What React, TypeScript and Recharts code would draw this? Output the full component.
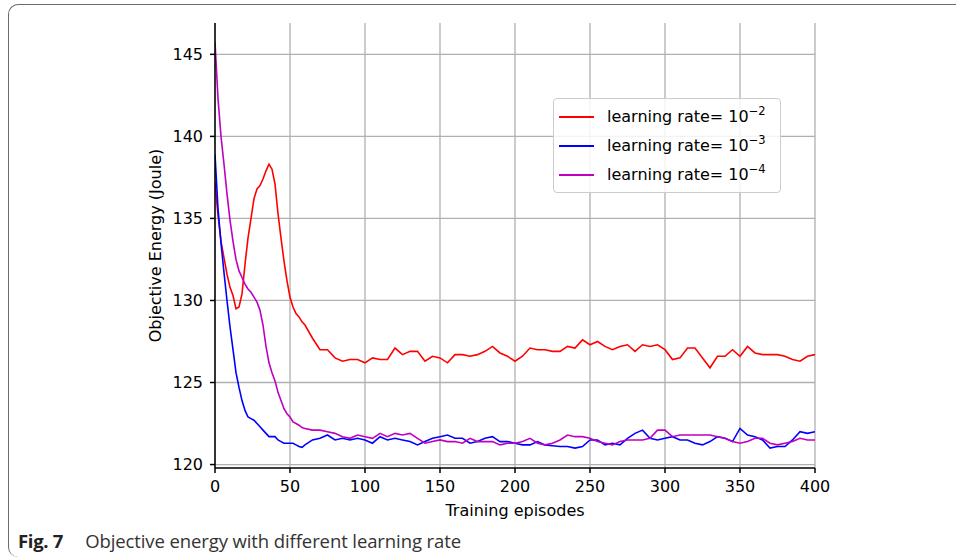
import { LineChart, Line, XAxis, YAxis, CartesianGrid, Legend } from 'recharts'

// training episode index (x axis)
const episodes = [
  0, 2, 4, 6, 8, 10, 12, 14, 16, 18,
  20, 22, 24, 26, 28, 30, 32, 34, 36, 38,
  40, 42, 44, 46, 48, 50, 52, 54, 56, 58,
  60, 65, 70, 75, 80, 85, 90, 95, 100, 105,
  110, 115, 120, 125, 130, 135, 140, 145, 150, 155,
  160, 165, 170, 175, 180, 185, 190, 195, 200, 205,
  210, 215, 220, 225, 230, 235, 240, 245, 250, 255,
  260, 265, 270, 275, 280, 285, 290, 295, 300, 305,
  310, 315, 320, 325, 330, 335, 340, 345, 350, 355,
  360, 365, 370, 375, 380, 385, 390, 395, 400,
]

// learning rate 1e-2
const energyLr2 = [
  137.2, 135.2, 133.6, 132.6, 131.6, 130.8, 130.3, 129.5, 129.6, 130.4,
  132.2, 133.8, 135.0, 136.2, 136.8, 137.0, 137.4, 137.9, 138.3, 138.0,
  137.1, 135.3, 133.8, 132.4, 131.2, 130.2, 129.6, 129.2, 129.0, 128.7,
  128.5, 127.7, 127.0, 127.0, 126.5, 126.3, 126.4, 126.4, 126.2, 126.5,
  126.4, 126.4, 127.1, 126.7, 126.9, 126.9, 126.3, 126.6, 126.5, 126.2,
  126.7, 126.7, 126.6, 126.7, 126.9, 127.2, 126.8, 126.6, 126.3, 126.6,
  127.1, 127.0, 127.0, 126.9, 126.9, 127.2, 127.1, 127.6, 127.3, 127.5,
  127.2, 127.0, 127.2, 127.3, 126.9, 127.3, 127.2, 127.3, 127.0, 126.4,
  126.5, 127.1, 127.1, 126.5, 125.9, 126.6, 126.6, 127.0, 126.6, 127.2,
  126.8, 126.7, 126.7, 126.7, 126.6, 126.4, 126.3, 126.6, 126.7,
]

// learning rate 1e-3
const energyLr3 = [
  138.9, 135.6, 133.5, 131.7, 130.0, 128.4, 127.0, 125.6, 124.7, 123.9,
  123.3, 122.9, 122.8, 122.7, 122.5, 122.3, 122.1, 121.9, 121.7, 121.7,
  121.7, 121.5, 121.4, 121.3, 121.3, 121.3, 121.3, 121.2, 121.1, 121.05,
  121.2, 121.5, 121.6, 121.8, 121.5, 121.6, 121.5, 121.6, 121.5, 121.3,
  121.7, 121.5, 121.6, 121.5, 121.4, 121.2, 121.4, 121.6, 121.7, 121.8,
  121.6, 121.6, 121.3, 121.4, 121.6, 121.7, 121.4, 121.4, 121.3, 121.2,
  121.2, 121.4, 121.2, 121.15, 121.1, 121.1, 121.0, 121.1, 121.5, 121.5,
  121.2, 121.3, 121.2, 121.6, 121.9, 122.1, 121.6, 121.5, 121.6, 121.7,
  121.5, 121.5, 121.3, 121.2, 121.4, 121.7, 121.6, 121.4, 122.2, 121.8,
  121.7, 121.5, 121.0, 121.1, 121.1, 121.5, 122.0, 121.9, 122.0,
]

// learning rate 1e-4
const energyLr4 = [
  145.75, 142.3, 140.0, 138.3, 136.5, 134.9, 133.6, 132.5, 131.8, 131.4,
  131.0, 130.7, 130.5, 130.2, 129.9, 129.4, 128.5, 127.2, 126.2, 125.6,
  125.1, 124.4, 123.9, 123.4, 123.1, 122.9, 122.6, 122.5, 122.4, 122.25,
  122.2, 122.1, 122.1, 122.0, 121.9, 121.7, 121.6, 121.8, 121.7, 121.6,
  121.9, 121.7, 121.9, 121.8, 121.9, 121.6, 121.3, 121.4, 121.5, 121.4,
  121.4, 121.3, 121.6, 121.4, 121.4, 121.4, 121.2, 121.3, 121.3, 121.4,
  121.6, 121.3, 121.2, 121.3, 121.5, 121.8, 121.7, 121.7, 121.6, 121.4,
  121.3, 121.2, 121.4, 121.5, 121.5, 121.5, 121.6, 122.1, 122.1, 121.7,
  121.8, 121.8, 121.8, 121.8, 121.8, 121.7, 121.6, 121.4, 121.3, 121.4,
  121.6, 121.6, 121.3, 121.2, 121.3, 121.4, 121.6, 121.5, 121.5,
]

const xTicks = [0, 50, 100, 150, 200, 250, 300, 350, 400]
const yTicks = [120, 125, 130, 135, 140, 145]

const seriesKeys = ['lr2', 'lr3', 'lr4']
const seriesColors = ['#ff0000', '#0000ff', '#bf00bf']
const seriesExponents = ['\u22122', '\u22123', '\u22124']

const data = episodes.map((ep, i) => ({
  ep,
  lr2: energyLr2[i],
  lr3: energyLr3[i],
  lr4: energyLr4[i],
}))

const FONT = '"DejaVu Sans", sans-serif'

const renderLegend = () => (
  <div
    style={{
      width: 228,
      boxSizing: 'border-box',
      border: '1px solid #cccccc',
      borderRadius: 4,
      background: 'rgba(255,255,255,0.85)',
      padding: '3px 0',
      fontFamily: FONT,
      fontSize: 16,
      color: '#000',
    }}
  >
    {seriesKeys.map((k, i) => (
      <div key={k} style={{ display: 'flex', alignItems: 'center', height: 29 }}>
        <svg width={35} height={4} style={{ marginLeft: 5, marginRight: 13 }}>
          <line x1={0} y1={2} x2={35} y2={2} stroke={seriesColors[i]} strokeWidth={1.8} />
        </svg>
        <span style={{ whiteSpace: 'nowrap' }}>
          learning rate= 10
          <span style={{ fontSize: 11.5, position: 'relative', top: -7 }}>{seriesExponents[i]}</span>
        </span>
      </div>
    ))}
  </div>
)

export default function App() {
  return (
    <div style={{ position: 'absolute', left: 0, top: 0, width: 956, height: 560, background: '#fff', overflow: 'hidden', fontFamily: FONT }}>
      {/* figure frame */}
      <div
        style={{
          position: 'absolute',
          left: 8,
          top: 4,
          width: 980,
          height: 552,
          borderTop: '1.6px solid #6b6b6b',
          borderLeft: '1.6px solid #6b6b6b',
          borderRadius: '10px 0 0 10px',
        }}
      />
      <div style={{ position: 'absolute', left: 0, top: 0 }}>
        <LineChart width={956} height={560} data={data} margin={{ top: 23, right: 141, bottom: 52, left: 155 }}>
          <CartesianGrid stroke="#b0b0b0" strokeWidth={1.3} horizontalValues={yTicks} verticalValues={xTicks} />
          <XAxis
            dataKey="ep"
            type="number"
            domain={[0, 400]}
            ticks={xTicks}
            allowDataOverflow
            height={40}
            stroke="#000"
            strokeWidth={1.5}
            tickSize={5}
            tickMargin={8}
            tick={{ fontSize: 16, fill: '#000', fontFamily: FONT }}
            label={{
              content: ({ viewBox }: any) => (
                <text
                  x={viewBox.x + viewBox.width / 2}
                  y={viewBox.y + 48}
                  textAnchor="middle"
                  fontSize={16}
                  fontFamily={FONT}
                  fill="#000"
                >
                  Training episodes
                </text>
              ),
            }}
          />
          <XAxis xAxisId="top" orientation="top" type="number" domain={[0, 400]} height={0} tick={false} tickLine={false} stroke="#000" strokeWidth={1.5} />
          <YAxis
            type="number"
            domain={[119.79, 146.91]}
            ticks={yTicks}
            allowDataOverflow
            width={60}
            stroke="#000"
            strokeWidth={1.5}
            tickSize={5}
            tickMargin={7}
            tick={{ fontSize: 16, fill: '#000', fontFamily: FONT }}
            label={{
              content: ({ viewBox }: any) => {
                const cx = viewBox.x
                const cy = viewBox.y + viewBox.height / 2
                return (
                  <text
                    x={cx}
                    y={cy}
                    dy="0.35em"
                    textAnchor="middle"
                    transform={`rotate(-90, ${cx}, ${cy})`}
                    fontSize={16}
                    fontFamily={FONT}
                    fill="#000"
                  >
                    Objective Energy (Joule)
                  </text>
                )
              },
            }}
          />
          <YAxis yAxisId="right" orientation="right" domain={[119.79, 146.91]} width={0} tick={false} tickLine={false} stroke="#000" strokeWidth={1.5} />
          {seriesKeys.map((k, i) => (
            <Line
              key={k}
              type="linear"
              dataKey={k}
              stroke={seriesColors[i]}
              strokeWidth={1.6}
              dot={false}
              activeDot={false}
              isAnimationActive={false}
            />
          ))}
          <Legend
            layout="vertical"
            align="center"
            verticalAlign="middle"
            content={renderLegend}
            wrapperStyle={{ left: 553, top: 98, width: 228 }}
          />
        </LineChart>
      </div>
      {/* caption */}
      <div
        style={{
          position: 'absolute',
          left: 18,
          top: 529,
          fontFamily: '"Open Sans", sans-serif',
          fontSize: 18.5,
          lineHeight: '24px',
          color: '#333',
          whiteSpace: 'nowrap',
        }}
      >
        <span style={{ fontWeight: 700, color: '#222', letterSpacing: -0.3 }}>Fig. 7</span>
        <span style={{ marginLeft: 22, letterSpacing: -0.1 }}>Objective energy with different learning rate</span>
      </div>
    </div>
  )
}
